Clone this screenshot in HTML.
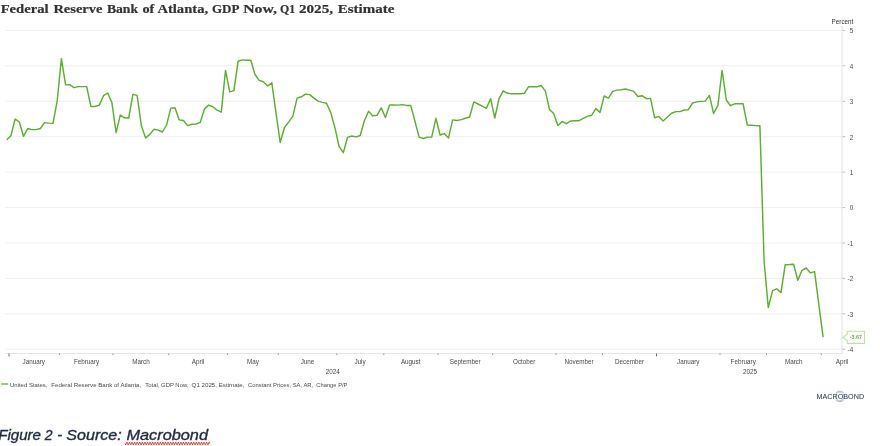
<!DOCTYPE html>
<html><head><meta charset="utf-8"><title>GDP Now</title>
<style>
html,body{margin:0;padding:0;background:#fff;}
body{width:880px;height:446px;overflow:hidden;position:relative;font-family:"Liberation Sans",sans-serif;}
svg{position:absolute;left:0;top:0;display:block}
.t{font-family:"Liberation Serif",serif;font-weight:bold;font-size:13px;fill:#333;stroke:#333;stroke-width:0.2}
.s{font-family:"Liberation Sans",sans-serif;font-size:6.3px;fill:#4a4a4a}
.g line{stroke:#efefef;stroke-width:1}
.k line{stroke:#bdbdbd;stroke-width:1}
</style></head><body>
<svg width="880" height="446" viewBox="0 0 880 446">
<g class="t"><text x="0.65" y="13.1" textLength="48.05" lengthAdjust="spacingAndGlyphs">Federal</text><text x="53.40" y="13.1" textLength="49.10" lengthAdjust="spacingAndGlyphs">Reserve</text><text x="106.90" y="13.1" textLength="31.20" lengthAdjust="spacingAndGlyphs">Bank</text><text x="142.40" y="13.1" textLength="11.95" lengthAdjust="spacingAndGlyphs">of</text><text x="157.40" y="13.1" textLength="50.70" lengthAdjust="spacingAndGlyphs">Atlanta,</text><text x="211.90" y="13.1" textLength="27.45" lengthAdjust="spacingAndGlyphs">GDP</text><text x="243.15" y="13.1" textLength="33.70" lengthAdjust="spacingAndGlyphs">Now,</text><text x="279.90" y="13.1" textLength="15.20" lengthAdjust="spacingAndGlyphs">Q1</text><text x="298.90" y="13.1" textLength="34.20" lengthAdjust="spacingAndGlyphs">2025,</text><text x="337.65" y="13.1" textLength="56.70" lengthAdjust="spacingAndGlyphs">Estimate</text></g>
<g class="g"><line x1="5" x2="842.5" y1="349.3" y2="349.3"/><line x1="5" x2="842.5" y1="313.8" y2="313.8"/><line x1="5" x2="842.5" y1="278.4" y2="278.4"/><line x1="5" x2="842.5" y1="243.0" y2="243.0"/><line x1="5" x2="842.5" y1="207.6" y2="207.6"/><line x1="5" x2="842.5" y1="172.1" y2="172.1"/><line x1="5" x2="842.5" y1="136.7" y2="136.7"/><line x1="5" x2="842.5" y1="101.3" y2="101.3"/><line x1="5" x2="842.5" y1="65.8" y2="65.8"/><line x1="5" x2="842.5" y1="30.4" y2="30.4"/></g>
<line x1="842.1" x2="842.1" y1="26" y2="353.5" stroke="#e8e8e8" stroke-width="1.2"/>
<line x1="5" x2="842.5" y1="353.5" y2="353.5" stroke="#e6e6e6" stroke-width="1"/>
<g class="k"><line x1="842.5" x2="845.2" y1="349.3" y2="349.3"/><line x1="842.5" x2="845.2" y1="313.8" y2="313.8"/><line x1="842.5" x2="845.2" y1="278.4" y2="278.4"/><line x1="842.5" x2="845.2" y1="243.0" y2="243.0"/><line x1="842.5" x2="845.2" y1="207.6" y2="207.6"/><line x1="842.5" x2="845.2" y1="172.1" y2="172.1"/><line x1="842.5" x2="845.2" y1="136.7" y2="136.7"/><line x1="842.5" x2="845.2" y1="101.3" y2="101.3"/><line x1="842.5" x2="845.2" y1="65.8" y2="65.8"/><line x1="842.5" x2="845.2" y1="30.4" y2="30.4"/><line x1="9" x2="9" y1="353.5" y2="356.3" style="stroke:#6a6a6a"/><line x1="59.5" x2="59.5" y1="353.5" y2="355.0" style="stroke:#919191"/><line x1="113" x2="113" y1="353.5" y2="355.0" style="stroke:#919191"/><line x1="168.7" x2="168.7" y1="353.5" y2="355.0" style="stroke:#919191"/><line x1="227.5" x2="227.5" y1="353.5" y2="355.0" style="stroke:#919191"/><line x1="278.3" x2="278.3" y1="353.5" y2="355.0" style="stroke:#919191"/><line x1="336.8" x2="336.8" y1="353.5" y2="355.0" style="stroke:#919191"/><line x1="383.8" x2="383.8" y1="353.5" y2="355.0" style="stroke:#919191"/><line x1="438" x2="438" y1="353.5" y2="355.0" style="stroke:#919191"/><line x1="492.7" x2="492.7" y1="353.5" y2="355.0" style="stroke:#919191"/><line x1="556" x2="556" y1="353.5" y2="355.0" style="stroke:#919191"/><line x1="602.5" x2="602.5" y1="353.5" y2="355.0" style="stroke:#919191"/><line x1="656.5" x2="656.5" y1="353.5" y2="356.3" style="stroke:#6a6a6a"/><line x1="720" x2="720" y1="353.5" y2="355.0" style="stroke:#919191"/><line x1="766.5" x2="766.5" y1="353.5" y2="355.0" style="stroke:#919191"/><line x1="821.3" x2="821.3" y1="353.5" y2="355.0" style="stroke:#919191"/></g>
<g class="s"><text x="853.2" y="352.1" text-anchor="end">-4</text><text x="853.2" y="316.6" text-anchor="end">-3</text><text x="853.2" y="281.2" text-anchor="end">-2</text><text x="853.2" y="245.8" text-anchor="end">-1</text><text x="853.2" y="210.4" text-anchor="end">0</text><text x="853.2" y="174.9" text-anchor="end">1</text><text x="853.2" y="139.5" text-anchor="end">2</text><text x="853.2" y="104.1" text-anchor="end">3</text><text x="853.2" y="68.6" text-anchor="end">4</text><text x="853.2" y="33.2" text-anchor="end">5</text><text x="33.7" y="364" text-anchor="middle">January</text><text x="86.5" y="364" text-anchor="middle">February</text><text x="141" y="364" text-anchor="middle">March</text><text x="198" y="364" text-anchor="middle">April</text><text x="253" y="364" text-anchor="middle">May</text><text x="307.5" y="364" text-anchor="middle">June</text><text x="360" y="364" text-anchor="middle">July</text><text x="410.7" y="364" text-anchor="middle">August</text><text x="465.2" y="364" text-anchor="middle">September</text><text x="524.2" y="364" text-anchor="middle">October</text><text x="579" y="364" text-anchor="middle">November</text><text x="629.5" y="364" text-anchor="middle">December</text><text x="688.2" y="364" text-anchor="middle">January</text><text x="743.2" y="364" text-anchor="middle">February</text><text x="793.7" y="364" text-anchor="middle">March</text><text x="842" y="364" text-anchor="middle">April</text>
<text x="853.3" y="23.5" text-anchor="end" fill="#333">Percent</text>
<text x="332.8" y="374" text-anchor="middle">2024</text>
<text x="750" y="374" text-anchor="middle">2025</text>
<g style="font-size:6.1px"><text x="10" y="386.7" textLength="37.5" lengthAdjust="spacingAndGlyphs">United States,</text><text x="51.25" y="386.7" textLength="90" lengthAdjust="spacingAndGlyphs">Federal Reserve Bank of Atlanta,</text><text x="145.3" y="386.7" textLength="43.2" lengthAdjust="spacingAndGlyphs">Total, GDP Now,</text><text x="191.6" y="386.7" textLength="52.9" lengthAdjust="spacingAndGlyphs">Q1 2025, Estimate,</text><text x="248" y="386.7" textLength="65.25" lengthAdjust="spacingAndGlyphs">Constant Prices, SA, AR,</text><text x="316.25" y="386.7" textLength="31.25" lengthAdjust="spacingAndGlyphs">Change P/P</text></g>
</g>
<line x1="1.2" x2="8.2" y1="384" y2="384" stroke="#5bb030" stroke-width="1.3"/>
<polyline points="6.7,139.5 10.9,135.5 15.1,118.8 19.3,121.5 23.5,136.0 27.7,128.2 31.9,129.3 36.2,129.3 40.4,128.2 44.6,122.3 48.8,122.8 53.0,123.1 57.2,100.5 61.4,58.3 65.6,84.6 69.8,84.4 74.0,87.3 78.2,86.3 82.4,86.3 86.7,86.3 90.9,106.2 95.1,106.2 99.3,104.8 103.5,95.4 107.7,92.7 111.9,102.4 116.1,132.3 120.3,114.8 124.5,117.5 128.7,117.7 132.9,94.1 137.1,95.1 141.4,125.5 145.6,137.6 149.8,134.1 154.0,129.0 158.2,129.8 162.4,131.7 166.6,124.7 170.8,107.8 175.0,107.5 179.2,119.6 183.4,120.2 187.6,125.3 191.9,123.9 196.1,123.7 200.3,122.0 204.5,108.6 208.7,104.8 212.9,106.4 217.1,109.9 221.3,111.8 225.5,70.1 229.7,91.6 233.9,90.3 238.1,61.0 242.3,59.6 246.6,59.9 250.8,59.9 255.0,74.2 259.2,80.1 263.4,81.4 267.6,85.7 271.8,82.5 276.0,112.6 280.2,142.2 284.4,127.4 288.6,121.8 292.8,116.1 297.1,97.8 301.3,96.5 305.5,93.8 309.7,94.3 313.9,97.8 318.1,100.8 322.3,102.1 326.5,102.9 330.7,112.1 334.9,127.4 339.1,146.2 343.3,152.4 347.5,137.1 351.8,135.7 356.0,136.6 360.2,135.2 364.4,120.4 368.6,111.0 372.8,115.6 377.0,115.0 381.2,107.5 385.4,117.2 389.6,104.6 393.8,104.6 398.0,104.8 402.3,104.3 406.5,105.1 410.7,105.1 414.9,120.7 419.1,136.8 423.3,138.2 427.5,136.8 431.7,136.8 435.9,118.0 440.1,134.7 444.3,133.3 448.5,137.6 452.7,119.6 457.0,120.2 461.2,119.3 465.4,118.0 469.6,116.7 473.8,101.6 478.0,103.7 482.2,105.9 486.4,108.0 490.6,98.4 494.8,117.7 499.0,98.4 503.2,90.6 507.5,93.0 511.7,93.5 515.9,93.5 520.1,93.5 524.3,93.0 528.5,86.5 532.7,86.3 536.9,86.5 541.1,85.2 545.3,90.6 549.5,109.1 553.7,113.2 557.9,125.3 562.2,121.2 566.4,123.4 570.6,120.7 574.8,120.4 579.0,120.4 583.2,118.0 587.4,116.1 591.6,115.0 595.8,108.3 600.0,112.1 604.2,95.7 608.4,97.8 612.7,91.1 616.9,89.8 621.1,89.5 625.3,88.7 629.5,89.8 633.7,91.1 637.9,96.2 642.1,95.4 646.3,98.4 650.5,98.1 654.7,117.5 658.9,116.1 663.1,120.7 667.4,116.7 671.6,112.9 675.8,111.3 680.0,111.3 684.2,109.7 688.4,109.4 692.6,102.7 696.8,101.6 701.0,101.1 705.2,100.8 709.4,95.1 713.6,113.2 717.9,105.1 722.1,70.1 726.3,99.7 730.5,105.4 734.7,103.5 738.9,103.5 743.1,103.5 747.3,124.7 751.5,125.0 755.7,125.3 759.9,125.5 764.1,261.2 768.3,307.3 772.6,290.3 776.8,288.5 781.0,292.3 785.2,264.4 789.4,264.2 793.6,263.9 797.8,279.9 802.0,270.0 806.2,267.7 810.4,272.6 814.6,271.3 818.8,304.0 823.1,336.9" fill="none" stroke="#5bb030" stroke-width="1.45" stroke-linejoin="round" stroke-linecap="butt" transform="translate(0,0.3)"/>
<path d="M842.8,337.5 L847.3,334.3 L847.3,331.3 L864.5,331.3 L864.5,343.4 L847.3,343.4 L847.3,340.6 Z" fill="#fff" stroke="#bfe0ab" stroke-width="1.1"/>
<text x="855.8" y="339.4" text-anchor="middle" style="font-family:'Liberation Sans',sans-serif;font-weight:bold;font-size:5.3px;fill:#68b840">-3.67</text>
<circle cx="839.8" cy="396.4" r="4.3" fill="none" stroke="#6b7a99" stroke-width="0.45"/><path d="M835.74,392.99 A5.3,5.3 0 0 1 843.86,392.99 M843.86,399.81 A5.3,5.3 0 0 1 835.74,399.81" fill="none" stroke="#6b7a99" stroke-width="0.5"/>
<text x="816.6" y="398.8" textLength="47.5" lengthAdjust="spacingAndGlyphs" style="font-family:'Liberation Sans',sans-serif;font-size:6.7px;fill:#2c3e63;stroke:#2c3e63;stroke-width:0.05">MACROBOND</text>
<g style="font-family:'Liberation Sans',sans-serif;font-style:italic;font-size:14.5px;fill:#1f2b45;stroke:#1f2b45;stroke-width:0.35">
<text x="-1.8" y="440.4" textLength="42.8" lengthAdjust="spacingAndGlyphs">Figure</text>
<text x="44.7" y="440.4" textLength="7.8" lengthAdjust="spacingAndGlyphs">2</text>
<text x="57.2" y="440.4" textLength="5" lengthAdjust="spacingAndGlyphs">-</text>
<text x="66.3" y="440.4" textLength="55.4" lengthAdjust="spacingAndGlyphs">Source:</text>
<text x="126.4" y="440.4" textLength="81.6" lengthAdjust="spacingAndGlyphs">Macrobond</text>
</g>
<path d="M125,443.5 q0.6425,2.6 1.285,0 t1.285,0 t1.285,0 t1.285,0 t1.285,0 t1.285,0 t1.285,0 t1.285,0 t1.285,0 t1.285,0 t1.285,0 t1.285,0 t1.285,0 t1.285,0 t1.285,0 t1.285,0 t1.285,0 t1.285,0 t1.285,0 t1.285,0 t1.285,0 t1.285,0 t1.285,0 t1.285,0 t1.285,0 t1.285,0 t1.285,0 t1.285,0 t1.285,0 t1.285,0 t1.285,0 t1.285,0 t1.285,0 t1.285,0 t1.285,0 t1.285,0 t1.285,0 t1.285,0 t1.285,0 t1.285,0 t1.285,0 t1.285,0 t1.285,0 t1.285,0 t1.285,0 t1.285,0 t1.285,0 t1.285,0 t1.285,0 t1.285,0 t1.285,0 t1.285,0 t1.285,0 t1.285,0 t1.285,0 t1.285,0 t1.285,0 t1.285,0 t1.285,0 t1.285,0 t1.285,0 t1.285,0 t1.285,0 t1.285,0 t1.285,0 t1.285,0 " fill="none" stroke="#ee1010" stroke-width="0.9"/>
</svg>
</body></html>
